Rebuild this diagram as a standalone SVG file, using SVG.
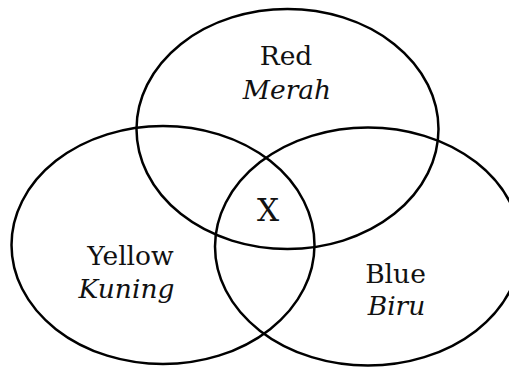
<svg xmlns="http://www.w3.org/2000/svg" width="509" height="367" viewBox="0 0 509 367">
<style>
.set{fill:none;stroke:#000;stroke-width:2.5}
.t{font-family:"DejaVu Serif","Liberation Serif",serif;font-size:26.5px;fill:#111;text-anchor:middle}
.i{font-style:italic}
</style>
<rect width="509" height="367" fill="#fff"/>
<g id="red"><ellipse class="set" cx="287.5" cy="129" rx="151" ry="120"/>
<text class="t" x="286" y="65">Red</text><text class="t i" x="287" y="99">Merah</text></g>
<g id="yellow"><ellipse class="set" cx="163" cy="245" rx="151.5" ry="119"/>
<text class="t" x="130.5" y="265">Yellow</text><text class="t i" x="126.5" y="298">Kuning</text></g>
<g id="blue"><ellipse class="set" cx="368" cy="246.5" rx="153" ry="119"/>
<text class="t" x="395.5" y="283">Blue</text><text class="t i" x="396.5" y="315">Biru</text></g>
<g id="center"><text class="t" x="268" y="221" style="font-size:31px">X</text></g>
</svg>
